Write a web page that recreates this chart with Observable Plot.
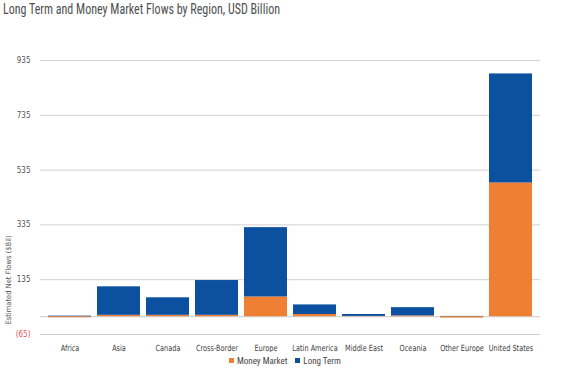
<!DOCTYPE html>
<html>
<head>
<meta charset="utf-8">
<script src="https://cdn.jsdelivr.net/npm/d3@7"></script>
<script src="https://cdn.jsdelivr.net/npm/@observablehq/plot@0.6"></script>
<style>
  html, body { margin: 0; padding: 0; background: #fff; }
  body { width: 565px; height: 370px; position: relative; overflow: hidden;
         font-family: "DejaVu Sans", sans-serif; font-stretch: condensed; }
  #title { position: absolute; left: 3px; top: 1px; font-size: 14px; color: #505050; white-space: nowrap; transform-origin: 0 0; z-index: 2; font-family: Roboto, sans-serif; }
  #chart { position: absolute; left: 0; top: 0; z-index: 1; }
  #legend { position: absolute; top: 356px; left: 229px; font-size: 9px; color: #444; white-space: nowrap; z-index: 2; font-family: Roboto, sans-serif; }
  #legend span.sw { display: inline-block; width: 5px; height: 5px; margin-right: 3px; vertical-align: 1px; }
  #legend span.item { margin-right: 8px; }
  svg text { font-stretch: condensed; }
</style>
</head>
<body>
<div id="title">Long Term and Money Market Flows by Region, USD Billion</div>
<div id="chart"></div>
<div id="legend"></div>
<script>
const regions = ["Africa","Asia","Canada","Cross-Border","Europe","Latin America","Middle East","Oceania","Other Europe","United States"];
const moneyMarket = [-4, 5, 5, 5, 72, 8, 1, 3, -5, 488];
const longTerm = [2, 104, 64, 127, 253, 35, 7, 30, 1, 398];
const seriesNames = ["Money Market", "Long Term"];
const seriesColors = ["#EE7F33", "#0C50A0"];
const yTicks = [-65, 135, 335, 535, 735, 935];
const yLabel = "Estimated Net Flows ($Bil)";

const rows = [];
regions.forEach((r, i) => rows.push({region: r, series: seriesNames[0], value: moneyMarket[i]}));
regions.forEach((r, i) => rows.push({region: r, series: seriesNames[1], value: longTerm[i]}));

const fmt = d => d < 0 ? `(${-d})` : `${d}`;

const plot = Plot.plot({
  width: 565,
  height: 352,
  marginTop: 60,
  marginBottom: 18,
  marginLeft: 40,
  marginRight: 25,
  style: {fontFamily: '"DejaVu Sans Condensed", "DejaVu Sans", sans-serif', fontSize: "8px", color: "#555", background: "transparent"},
  x: {domain: regions, padding: 0.12, label: null},
  y: {domain: [-65, 935], label: null},
  color: {domain: seriesNames, range: seriesColors},
  marks: [
    Plot.gridY(yTicks, {stroke: "#d0d0d0", strokeOpacity: 1}),
    Plot.ruleY([0], {stroke: "#c8c8c8"}),
    Plot.barY(rows, {x: "region", y: "value", fill: "series", order: seriesNames}),
    Plot.axisY(yTicks.filter(d => d >= 0), {tickSize: 0, tickPadding: 10, tickFormat: fmt, color: "#555", label: null}),
    Plot.axisY(yTicks.filter(d => d < 0), {tickSize: 0, tickPadding: 10, tickFormat: fmt, color: "#d9534f", label: null}),
    Plot.axisX({tickSize: 0, tickPadding: 10, color: "#444", label: null, fontSize: 8.5, className: "xax"})
  ]
});
document.getElementById("chart").appendChild(plot);

// narrow the x labels like the reference's condensed face
d3.select(plot).selectAll("g[aria-label='x-axis tick label'] text, .xax text").each(function() {
  const el = d3.select(this);
  const tr = el.attr("transform") || "";
  if (!tr.includes("scale")) el.attr("transform", tr + " scale(0.86,1)");
});

d3.select(plot).append("text")
  .attr("transform", "translate(11,280) rotate(-90)")
  .attr("text-anchor", "middle")
  .attr("font-size", "7.5px")
  .attr("fill", "#555")
  .text(yLabel);

const legend = d3.select("#legend");
seriesNames.forEach((n, i) => {
  const it = legend.append("span").attr("class", "item");
  it.append("span").attr("class", "sw").style("background", seriesColors[i]);
  it.append("span").text(n);
});

// fit title to the reference width
const t = document.getElementById("title");
const w = t.getBoundingClientRect().width;
t.style.transform = `scaleX(${277 / w})`;
</script>
</body>
</html>
